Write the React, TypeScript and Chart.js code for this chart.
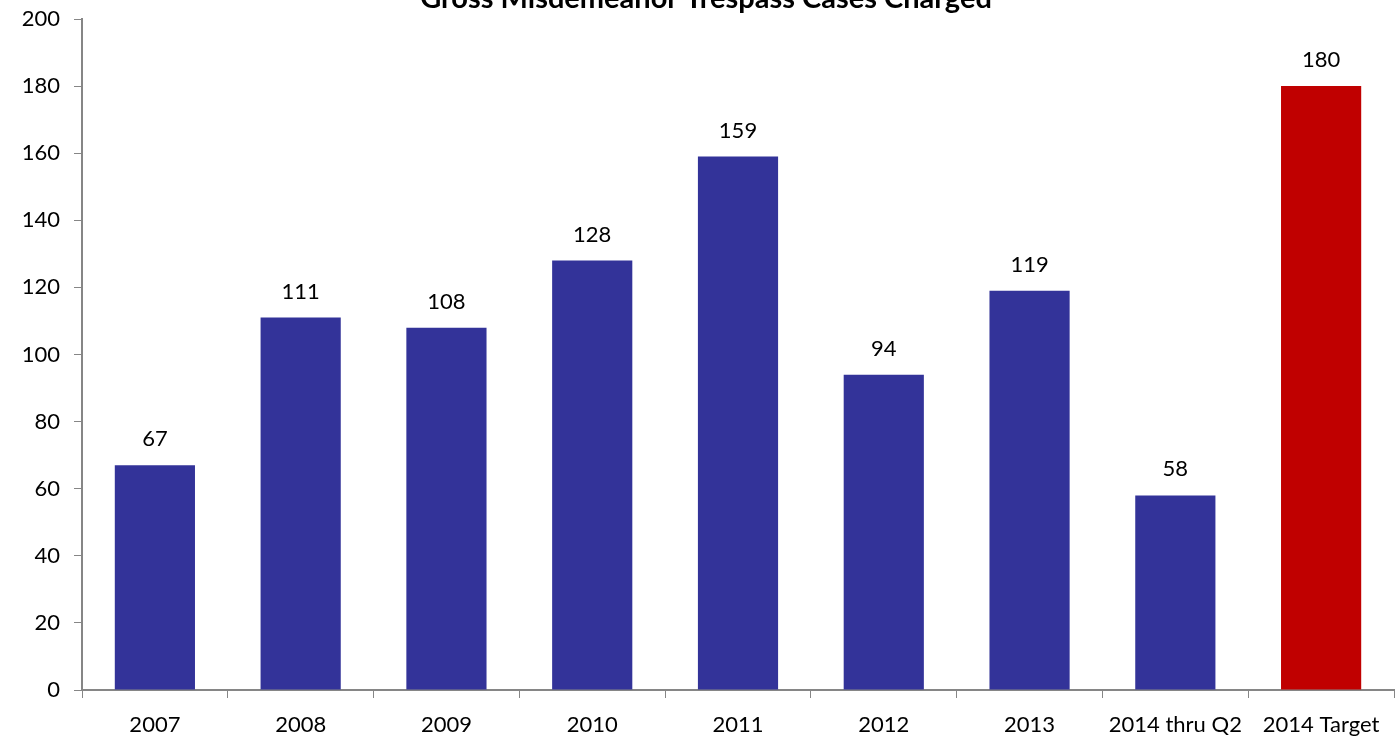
import React, { useEffect, useRef } from "react";
import { Chart, registerables } from "chart.js";

Chart.register(...registerables);

const TITLE = "Gross Misdemeanor Trespass Cases Charged";
const categories = ["2007", "2008", "2009", "2010", "2011", "2012", "2013", "2014 thru Q2", "2014 Target"];
const cases = [67, 111, 108, 128, 159, 94, 119, 58, 180];
const barColors = ["#333399", "#333399", "#333399", "#333399", "#333399", "#333399", "#333399", "#333399", "#C00000"];
const yTicks = [0, 20, 40, 60, 80, 100, 120, 140, 160, 180, 200];

const FONT = "Lato, 'Open Sans', sans-serif";

const labelPlugin = {
  id: "valueLabels",
  afterDatasetsDraw(chart: any) {
    const ctx = chart.ctx;
    const meta = chart.getDatasetMeta(0);
    ctx.save();
    ctx.font = `22px ${FONT}`;
    ctx.fillStyle = "#000";
    ctx.textAlign = "center";
    ctx.textBaseline = "alphabetic";
    meta.data.forEach((bar: any, i: number) => {
      ctx.fillText(String(cases[i]), bar.x, bar.y - 19);
    });
    ctx.restore();
  },
};

const titlePlugin = {
  id: "clippedTitle",
  afterDraw(chart: any) {
    const ctx = chart.ctx;
    ctx.save();
    ctx.font = `bold 29px ${FONT}`;
    ctx.fillStyle = "#000";
    ctx.textAlign = "center";
    ctx.textBaseline = "alphabetic";
    ctx.fillText(TITLE, 706, 8);
    ctx.restore();
  },
};

export default function App() {
  const ref = useRef<HTMLCanvasElement | null>(null);
  useEffect(() => {
    document.body.style.margin = "0";
    const chart = new Chart(ref.current as HTMLCanvasElement, {
      type: "bar",
      data: {
        labels: categories,
        datasets: [
          {
            data: cases,
            backgroundColor: barColors,
            borderWidth: 0,
            categoryPercentage: 1,
            barPercentage: 0.55,
          },
        ],
      },
      options: {
        animation: false,
        responsive: false,
        maintainAspectRatio: false,
        layout: { padding: { top: 19, right: 3, bottom: 0, left: 0 } },
        plugins: { legend: { display: false }, tooltip: { enabled: false }, title: { display: false } },
        scales: {
          x: {
            grid: { drawOnChartArea: false, drawTicks: true, tickLength: 8, color: "#868686", offset: true },
            border: { color: "#868686", width: 2 },
            ticks: { color: "#000", font: { family: FONT, size: 22 }, padding: 14, maxRotation: 0, autoSkip: false },
            afterFit(scale: any) {
              scale.height = 48;
              scale.paddingLeft = 0;
              scale.paddingRight = 0;
            },
          },
          y: {
            min: 0,
            max: 200,
            afterBuildTicks(scale: any) {
              scale.ticks = yTicks.map((v) => ({ value: v }));
            },
            grid: { drawOnChartArea: false, drawTicks: true, tickLength: 8, color: "#868686" },
            border: { color: "#868686", width: 2 },
            ticks: { color: "#000", font: { family: FONT, size: 22 }, padding: 14 },
            afterFit(scale: any) {
              scale.width = 82;
              scale.paddingTop = 0;
              scale.paddingBottom = 0;
            },
          },
        },
      },
      plugins: [labelPlugin, titlePlugin],
    });
    return () => chart.destroy();
  }, []);
  return (
    <div style={{ position: "fixed", left: 0, top: 0, width: 1397, height: 738, background: "#fff" }}>
      <canvas ref={ref} width={1397} height={738} style={{ width: 1397, height: 738 }} />
    </div>
  );
}
